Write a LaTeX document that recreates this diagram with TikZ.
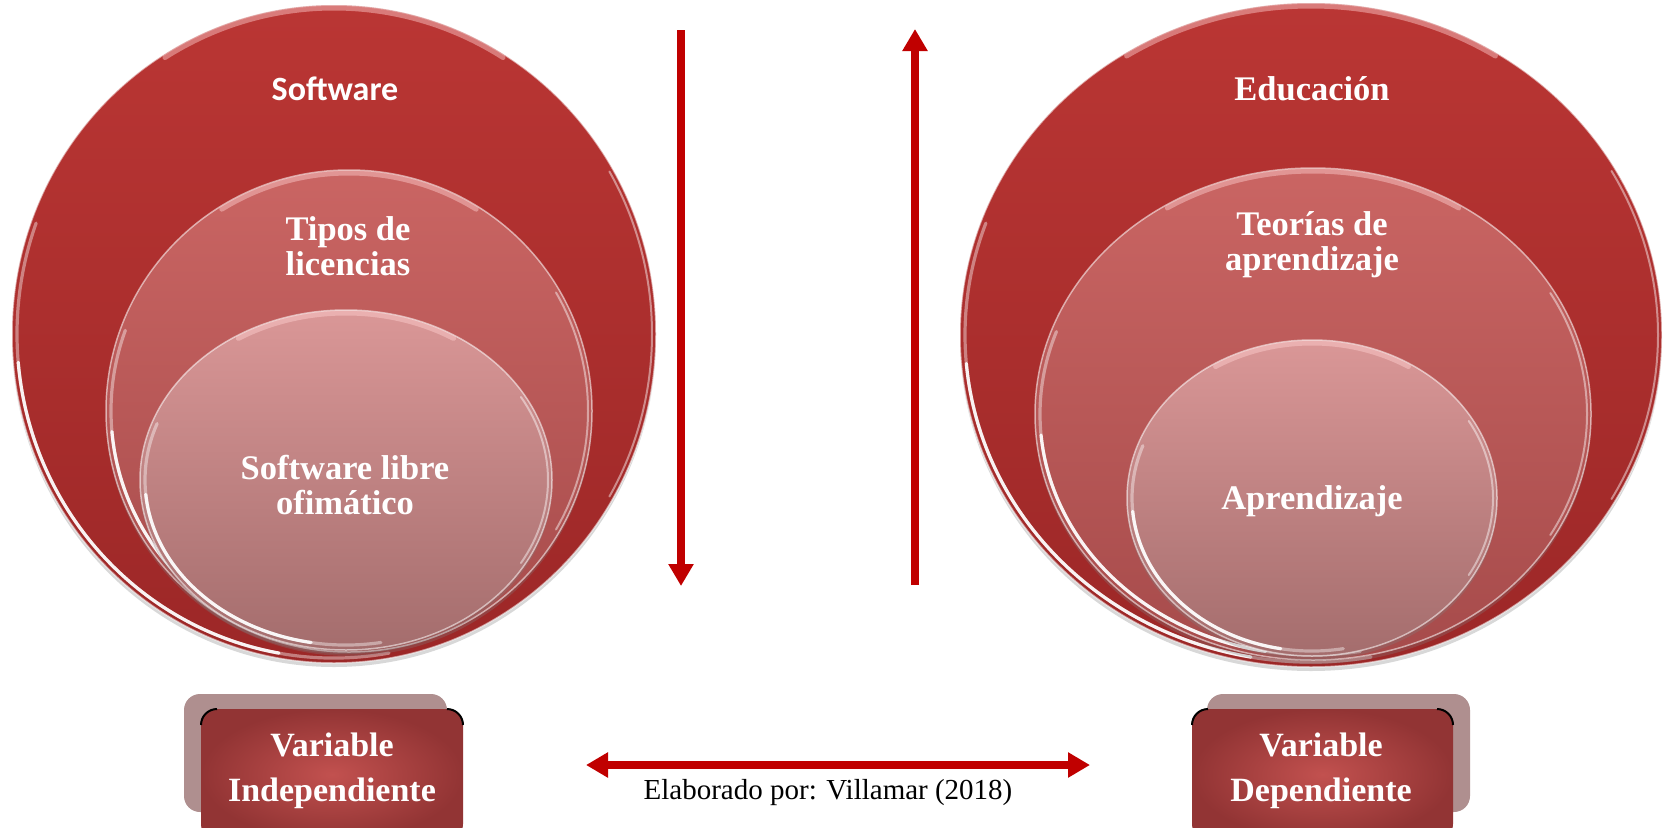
\documentclass[tikz,border=0pt]{standalone}
\usepackage{fontspec}
\setmainfont{Liberation Serif}
\newfontfamily\calibfont{Carlito}
\usetikzlibrary{shapes.geometric,arrows.meta,shadows,calc}

\definecolor{arrowred}{HTML}{C00000}
\definecolor{outerTop}{HTML}{BA3634}
\definecolor{outerBot}{HTML}{9C2727}
\definecolor{midTop}{HTML}{CA6563}
\definecolor{midBot}{HTML}{A64B4B}
\definecolor{innTop}{HTML}{DA9797}
\definecolor{innBot}{HTML}{A46D6D}
\definecolor{backBox}{HTML}{AF8F8F}
\definecolor{boxIn}{HTML}{C2514F}
\definecolor{boxOut}{HTML}{923434}
\definecolor{glowPink}{HTML}{FFD0D0}

\tikzset{redtip/.tip={Triangle[width=24pt,length=22pt]}}

% glossy bevel on a disc: node name, x radius, y radius
\newcommand\discgloss[3]{%
  \draw[glossrim, opacity=0.4] ($(#1.center)+(80:{#2-5} and {#3-5})$)
      arc[start angle=80, end angle=200, x radius={#2-5}, y radius={#3-5}];
  \draw[glossrim] ($(#1.center)+(100:{#2-5} and {#3-5})$)
      arc[start angle=100, end angle=175, x radius={#2-5}, y radius={#3-5}];
  \draw[glosstop] ($(#1.center)+(238:{#2-3} and {#3-3})$)
      arc[start angle=238, end angle=302, x radius={#2-3}, y radius={#3-3}];
  \draw[glossside] ($(#1.center)+(-30:{#2-4} and {#3-4})$)
      arc[start angle=-30, end angle=30, x radius={#2-4}, y radius={#3-4}];
}

\begin{document}
\begin{tikzpicture}[x=1pt,y=-1pt,
  disc/.style={ellipse, inner sep=0pt, outer sep=0pt,
    draw=white, draw opacity=0.55, line width=1.5pt,
    drop shadow={opacity=0.3, shadow xshift=0pt, shadow yshift=-4pt}},
  outerdisc/.style={disc, top color=outerTop, bottom color=outerBot},
  middisc/.style={disc, top color=midTop, bottom color=midBot},
  inndisc/.style={disc, top color=innTop, bottom color=innBot},
  glossrim/.style={white, opacity=0.9, line width=3.2pt, line cap=round},
  glosstop/.style={glowPink, opacity=0.45, line width=5pt, line cap=round},
  glossside/.style={white, opacity=0.45, line width=2pt, line cap=round},
  lbl/.style={text=white, align=center, inner sep=0pt,
    font=\bfseries\fontsize{34.5}{35}\selectfont},
  varlbl/.style={text=white, align=center, inner sep=0pt,
    font=\bfseries\fontsize{34}{45}\selectfont},
  backpanel/.style={rounded corners=16pt, fill=backBox},
  frontpanel/.style={rectangle, rounded corners=16pt, inner color=boxIn, outer color=boxOut},
  cornermark/.style={black, line width=2pt},
  flow/.style={draw=arrowred, line width=8pt}
]
\useasboundingbox (0,0) rectangle (1664,827);
\fill[white] (0,0) rectangle (1664,827);

% ---- independent variable: nested discs ----
\node[outerdisc, minimum width=644, minimum height=658] (swOuter) at (334,334) {};
\discgloss{swOuter}{322}{329}
\node[middisc, minimum width=486, minimum height=482] (swMid) at (349,411) {};
\discgloss{swMid}{243}{241}
\node[inndisc, minimum width=412, minimum height=340] (swInn) at (346,480) {};
\discgloss{swInn}{206}{170}

\node[text=white, inner sep=0pt, font=\calibfont\bfseries\fontsize{34}{36}\selectfont] (tSoft) at (335,89) {Software};
\node[lbl] (tTipos) at (348,246) {Tipos de\\licencias};
\node[lbl] (tLibre) at (345,485) {Software libre\\ofimático};

% ---- dependent variable: nested discs ----
\node[outerdisc, minimum width=702, minimum height=664] (edOuter) at (1311,335) {};
\discgloss{edOuter}{351}{332}
\node[middisc, minimum width=556, minimum height=492] (edMid) at (1313,414) {};
\discgloss{edMid}{278}{246}
\node[inndisc, minimum width=370, minimum height=316] (edInn) at (1312,498) {};
\discgloss{edInn}{185}{158}

\node[lbl] (tEdu) at (1312,89) {Educación};
\node[lbl] (tTeor) at (1312,245) {Teorías de\\aprendizaje};
\node[lbl] (tApr) at (1312,501) {Aprendizaje};

% ---- vertical arrows ----
\coordinate (downStart) at (681,30);
\coordinate (downEnd) at (681,586);
\draw[flow, -{redtip}] (downStart) -- (downEnd);
\coordinate (upStart) at (915,585);
\coordinate (upEnd) at (915,29);
\draw[flow, -{redtip}] (upStart) -- (upEnd);

% ---- variable labels ----
\fill[backpanel] (184,694) rectangle (447,812);
\path[frontpanel] (201,709) rectangle (463,840);
\draw[cornermark] (201,725) arc[start angle=180, end angle=270, radius=16];
\draw[cornermark] (447,709) arc[start angle=270, end angle=360, radius=16];
\node[varlbl] (vInd) at (332,771) {Variable\\Independiente};

\fill[backpanel] (1207,694) rectangle (1470,812);
\path[frontpanel] (1192,709) rectangle (1453,840);
\draw[cornermark] (1192,725) arc[start angle=180, end angle=270, radius=16];
\draw[cornermark] (1437,709) arc[start angle=270, end angle=360, radius=16];
\node[varlbl] (vDep) at (1321,771) {Variable\\Dependiente};

% ---- link between the two variables ----
\coordinate (linkL) at (586,765);
\coordinate (linkR) at (1090,765);
\draw[flow, {redtip}-{redtip}] (linkL) -- (linkR);

\node[inner sep=0pt, font=\fontsize{29}{30}\selectfont] (credit) at (828,793) {Elaborado por: Villamar (2018)};
\end{tikzpicture}
\end{document}
